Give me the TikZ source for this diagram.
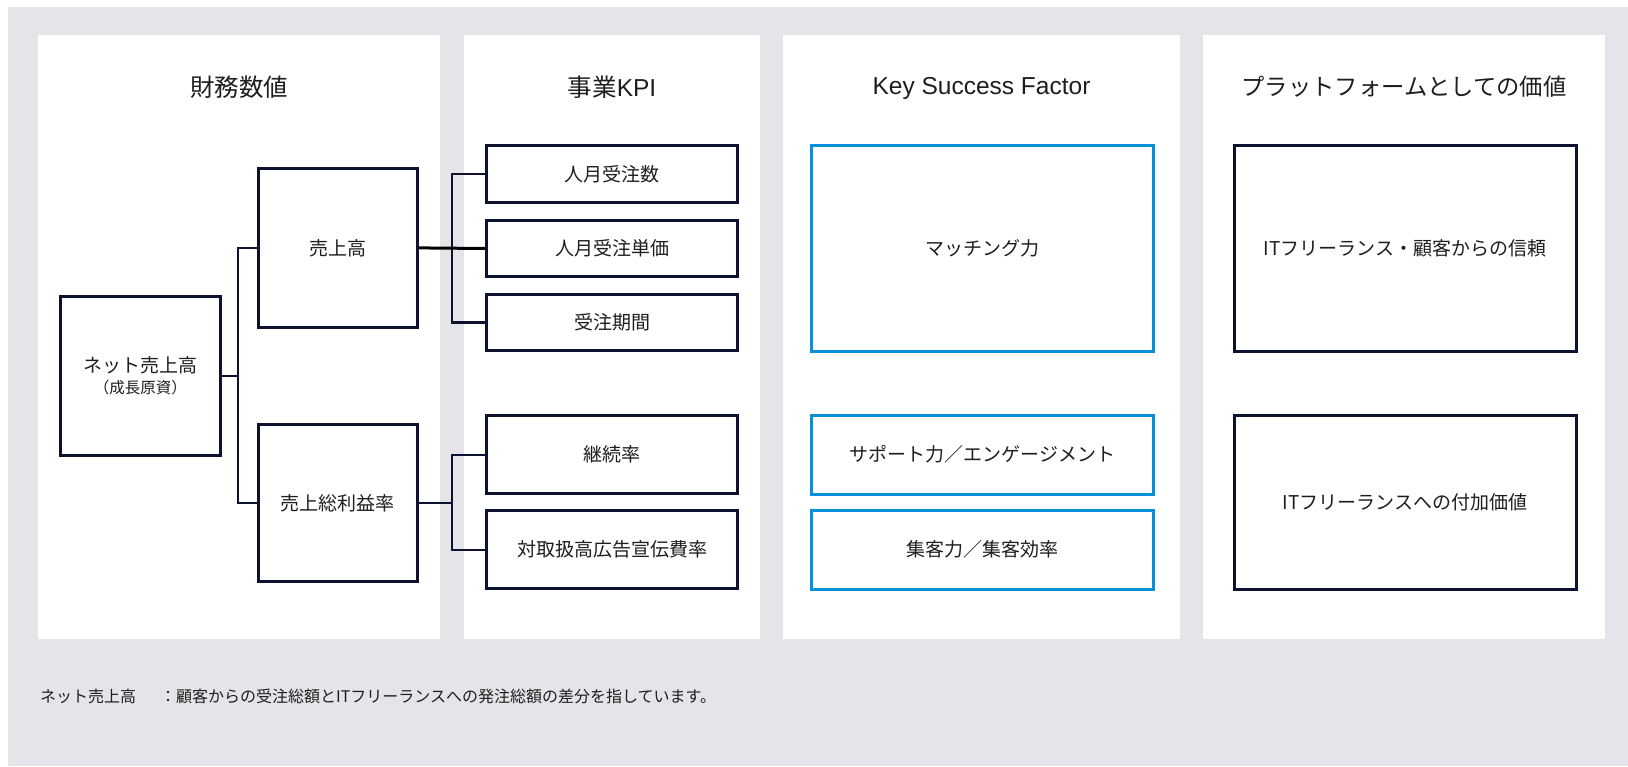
\documentclass[tikz,border=0pt]{standalone}
\usepackage{fontspec}
\setmainfont{Noto Sans CJK JP}
\newfontfamily\latinsans{Liberation Sans}
\definecolor{bggray}{RGB}{228,228,233}
\definecolor{navy}{RGB}{12,18,48}
\definecolor{ksfblue}{RGB}{10,144,218}
\definecolor{txt}{RGB}{30,30,30}
\begin{document}
\begin{tikzpicture}[x=1pt,y=-1pt,
  nbox/.style={draw=navy,line width=3pt,fill=white,inner sep=0pt,text=txt,font=\fontsize{19}{23}\selectfont,align=center},
  bbox/.style={draw=ksfblue,line width=3pt,fill=white,inner sep=0pt,text=txt,font=\fontsize{19}{23}\selectfont,align=center},
  ttl/.style={text=txt,font=\fontsize{24.5}{28}\selectfont,inner sep=0pt},
  conn/.style={draw=navy,line width=2.3pt},
  note/.style={text=txt,font=\fontsize{16}{19}\selectfont,inner sep=0pt,anchor=west}]
\useasboundingbox (0,0) rectangle (1628,766);
\fill[white] (0,0) rectangle (1628,766);
\fill[bggray] (8,7) rectangle (1628,766);
% panels
\fill[white] (38,35) rectangle (440,639);
\fill[white] (464,35) rectangle (760,639);
\fill[white] (783,35) rectangle (1180,639);
\fill[white] (1203,35) rectangle (1605,639);
% titles
\node[ttl] (t1) at (239,87) {財務数値};
\node[ttl] (t2) at (612,87) {事業{\latinsans KPI}};
\node[ttl,font=\latinsans\fontsize{24.5}{28}\selectfont] (t3) at (981.5,88) {Key Success Factor};
\node[ttl,font=\fontsize{23.3}{28}\selectfont] (t4) at (1404,87) {プラットフォームとしての価値};
% financial
\node[nbox,minimum width=159.7pt,minimum height=159pt] (net) at (140.3,376) {ネット売上高\\[-2pt]{\fontsize{15.5}{18}\selectfont （成長原資）}};
\node[nbox,minimum width=159.3pt,minimum height=159.3pt] (uri) at (337.9,247.9) {売上高};
\node[nbox,minimum width=159.3pt,minimum height=157.6pt] (sori) at (337.9,503) {売上総利益率};
% KPI
\node[nbox,minimum width=250.4pt,minimum height=56.7pt] (k1) at (612,174.2) {人月受注数};
\node[nbox,minimum width=250.4pt,minimum height=56.6pt] (k2) at (612,248.5) {人月受注単価};
\node[nbox,minimum width=250.4pt,minimum height=56.6pt] (k3) at (612,322.5) {受注期間};
\node[nbox,minimum width=250.4pt,minimum height=77.7pt] (k4) at (612,454.7) {継続率};
\node[nbox,minimum width=250.4pt,minimum height=77.7pt] (k5) at (612,549.7) {対取扱高広告宣伝費率};
% KSF
\node[bbox,minimum width=342pt,minimum height=205.7pt] (s1) at (982.5,248.3) {マッチング力};
\node[bbox,minimum width=342pt,minimum height=79pt] (s2) at (982.5,454.7) {サポート力／エンゲージメント};
\node[bbox,minimum width=342pt,minimum height=79pt] (s3) at (982.5,549.7) {集客力／集客効率};
% platform value
\node[nbox,minimum width=342pt,minimum height=205.7pt] (p1) at (1405.2,248.3) {ITフリーランス・顧客からの信頼};
\node[nbox,minimum width=342pt,minimum height=173.4pt] (p2) at (1405.2,502.5) {ITフリーランスへの付加価値};
% connectors
\coordinate (j1) at (238.3,376);
\coordinate (b1) at (452.3,248.5);
\coordinate (b2) at (452.3,503);
\draw[conn] (net.east) -- (j1);
\draw[conn] (uri.west) -| (j1);
\draw[conn] (sori.west) -| (j1);
\draw[conn] (k1.west) -| (b1);
\draw[conn] (k3.west) -| (b1);
\draw[line width=3pt,draw=black] (uri.east) -- (k2.west);
\draw[conn] (k4.west) -| (b2);
\draw[conn] (k5.west) -| (b2);
\draw[conn] (sori.east) -- (b2);
% footnote
\node[note] (n1) at (40,696) {ネット売上高};
\node[note] (n2) at (160,696) {：顧客からの受注総額とITフリーランスへの発注総額の差分を指しています。};
\end{tikzpicture}
\end{document}
